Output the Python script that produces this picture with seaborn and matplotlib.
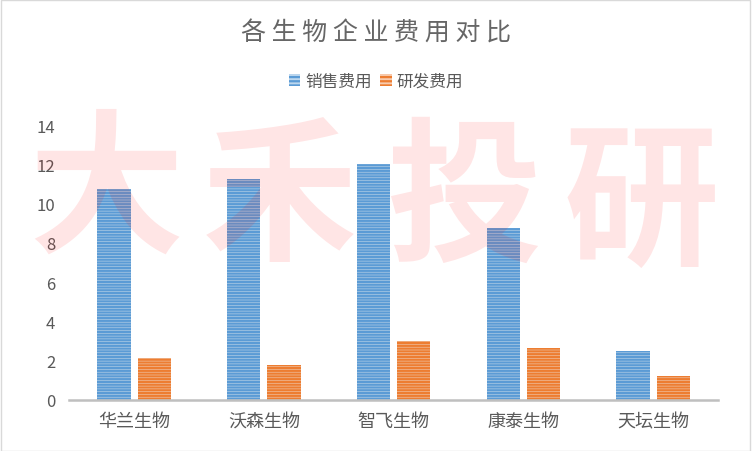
import pandas as pd
import seaborn as sns
import matplotlib.pyplot as plt
from matplotlib.colors import to_rgba
from matplotlib.patches import Patch, Rectangle

companies = ["华兰生物", "沃森生物", "智飞生物", "康泰生物", "天坛生物"]
sales_cost = [10.75, 11.25, 12.0, 8.75, 2.5]
rd_cost = [2.15, 1.78, 3.0, 2.65, 1.22]
series = ["销售费用", "研发费用"]

df = pd.DataFrame({
    "company": companies * 2,
    "kind": [series[0]] * 5 + [series[1]] * 5,
    "value": sales_cost + rd_cost,
})

sns.set_style("white")
plt.rcParams['font.family'] = ['Noto Sans CJK SC', 'DejaVu Sans']
plt.rcParams['hatch.linewidth'] = 1.6

fig = plt.figure(figsize=(7.52, 4.52), dpi=100)
ax = fig.add_axes([0.092, 0.113, 0.863, 0.608])

fills = {"销售费用": "#BDD7EE", "研发费用": "#F8CBAD"}
edges = {"销售费用": "#5B9BD5", "研发费用": "#ED7D31"}

sns.barplot(data=df, x="company", y="value", hue="kind", order=companies,
            hue_order=series, palette=fills, width=0.62, gap=0.17,
            legend=False, ax=ax)

for i, bar in enumerate(ax.patches[:10]):
    k = series[i // 5]
    bar.set_hatch("------")
    bar.set_linewidth(0)
    bar._hatch_color = to_rgba(edges[k])

ax.set_ylim(0, 14)
ax.set_yticks(range(0, 15, 2))
ax.set_xlim(-0.5, 4.5)
ax.set_xlabel("")
ax.set_ylabel("")
for s in ["top", "right", "left"]:
    ax.spines[s].set_visible(False)
ax.spines["bottom"].set_color("#BFBFBF")
ax.spines["bottom"].set_linewidth(1.8)
ax.tick_params(axis="y", labelsize=12, colors="#595959", length=0, pad=10)
ax.tick_params(axis="x", labelsize=13, colors="#595959", length=0, pad=9)

fig.suptitle(" ".join("各生物企业费用对比"), y=0.955, fontsize=18, color="#666666")

handles = []
for k in series:
    p = Patch(facecolor=fills[k], hatch="----", linewidth=0)
    p._hatch_color = to_rgba(edges[k])
    handles.append(p)
fig.legend(handles=handles, labels=series, loc="center", bbox_to_anchor=(0.5, 0.818),
           ncol=2, frameon=False, fontsize=12, labelcolor="#595959",
           handlelength=0.7, handleheight=0.7, handletextpad=0.3, columnspacing=0.5)

# watermark
for ch, xc, yc in zip("大禾投研", [106, 280, 465, 641], [195, 203, 203, 207]):
    fig.text(xc / 752, 1 - yc / 452, ch, ha="center", va="center", fontsize=112,
             fontweight="bold", color="#FF0000", alpha=0.1, zorder=10)

fig.patches.append(Rectangle((0.001, 0.001), 0.997, 0.997, transform=fig.transFigure,
                             fill=False, edgecolor="#D9D9D9", linewidth=1))

fig.savefig("out.png", dpi=100)
